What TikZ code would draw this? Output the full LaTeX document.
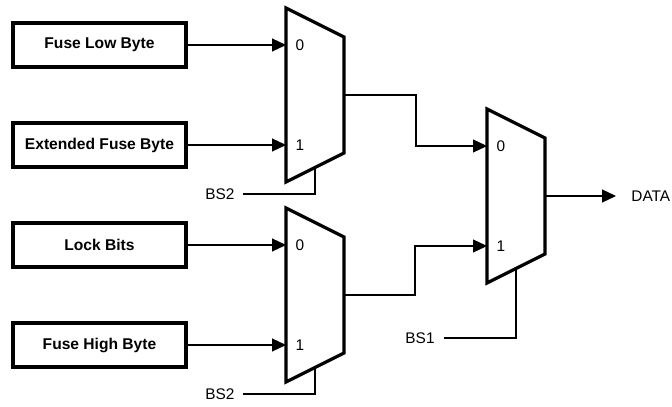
\documentclass[tikz,border=0pt]{standalone}
\usepackage{fontspec}
\setmainfont{Liberation Sans}
\usetikzlibrary{positioning,arrows.meta}

\tikzset{
  src/.style={rectangle, draw, line width=1.6pt, minimum width=86.5pt, minimum height=22pt,
    inner sep=0pt, font=\bfseries\fontsize{7.8}{9}\selectfont},
  wire/.style={line width=0.6pt},
  arr/.style={wire, -{Triangle[length=7pt,width=6.5pt]}},
  lbl/.style={inner sep=0pt, font=\fontsize{7.7}{9}\selectfont},
  mux/.pic={
    \draw[line width=1.6pt, line join=miter] (0,0) -- (58,29) -- (58,145) -- (0,174) -- cycle;
    \coordinate (-in0) at (0,37);
    \coordinate (-in1) at (0,137);
    \coordinate (-out) at (58,87);
    \coordinate (-sel) at (29,159.5);
    \node[lbl] at (14,37) {0};
    \node[lbl] at (14,137) {1};
  }
}

\begin{document}
\begin{tikzpicture}[x=0.5pt, y=-0.5pt]
    \useasboundingbox (0,0) rectangle (672,406);

    % sources
    \node[src] (flb) at (99.5,45) {Fuse Low Byte};
    \node[src] (efb) at (99.5,145) {Extended Fuse Byte};
    \node[src] (lck) at (99.5,245) {Lock Bits};
    \node[src] (fhb) at (99.5,345) {Fuse High Byte};

    % multiplexers
    \pic (muxa) at (286,8) {mux};
    \pic (muxb) at (286,208) {mux};
    \pic (muxc) at (487,109) {mux};

    \draw[arr] (flb.east) -- (muxa-in0);
    \draw[arr] (efb.east) -- (muxa-in1);
    \draw[arr] (lck.east) -- (muxb-in0);
    \draw[arr] (fhb.east) -- (muxb-in1);

    \draw[arr] (muxa-out) -- ++(72,0) |- (muxc-in0);
    \draw[arr] (muxb-out) -- ++(71,0) |- (muxc-in1);

    \node[lbl, right=43pt of muxc-out] (data) {DATA};
    \draw[arr] (muxc-out) -- ([xshift=-7.5pt]data.west);

    % select lines
    \node[lbl] (bsa) at (220,194) {BS2};
    \node[lbl] (bsb) at (220,394) {BS2};
    \node[lbl] (bsc) at (420,338) {BS1};
    \draw[wire] (muxa-sel) |- ([xshift=4pt]bsa.east);
    \draw[wire] (muxb-sel) |- ([xshift=4pt]bsb.east);
    \draw[wire] (muxc-sel) |- ([xshift=4.5pt]bsc.east);
\end{tikzpicture}
\end{document}
